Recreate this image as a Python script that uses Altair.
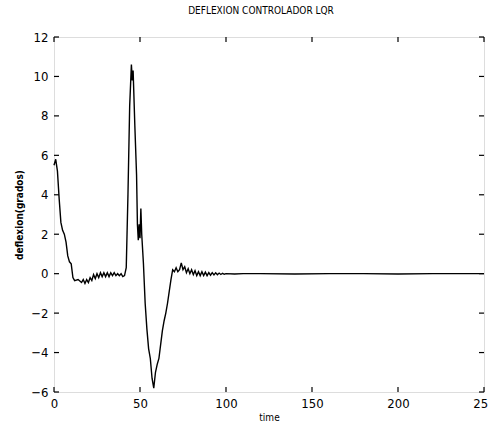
import altair as alt
import pandas as pd

# Data
t = [0, 1, 2, 3, 4, 5, 6, 7, 8, 9,
     10, 11, 12, 14, 16, 17, 18, 19, 20, 21,
     22, 23, 24, 25, 26, 27, 28, 29, 30, 31,
     32, 33, 34, 35, 36, 37, 38, 39, 40, 41,
     42, 43, 44, 45, 45.5, 46, 47, 48, 48.5, 49,
     49.5, 50, 50.5, 51, 52, 53, 54, 55, 56, 57,
     58, 59, 60, 61, 62, 63, 64, 65, 66, 67,
     68, 69, 70, 71, 72, 73, 74, 75, 76, 77,
     78, 79, 80, 81, 82, 83, 84, 85, 86, 87,
     88, 89, 90, 91, 92, 93, 94, 95, 96, 97,
     98, 99, 100, 105, 110, 120, 140, 160, 180, 200,
     220, 250]
defl = [5.5, 5.8, 5.2, 3.8, 2.6, 2.2, 2.0, 1.6, 0.9, 0.6,
        0.5, -0.2, -0.35, -0.3, -0.45, -0.3, -0.5, -0.3, -0.45, -0.2,
        -0.35, -0.05, -0.25, 0.0, -0.2, 0.05, -0.15, 0.05, -0.15, 0.05,
        -0.15, 0.05, -0.1, 0.05, -0.1, 0.0, -0.1, 0.0, -0.15, -0.1,
        0.3, 4.0, 8.5, 10.6, 9.8, 10.3, 7.5, 5.0, 2.5, 1.7,
        2.5, 1.8, 3.3, 2.0, 0.5, -1.5, -2.8, -3.8, -4.3, -5.3,
        -5.8, -5.0, -4.6, -4.3, -3.6, -2.9, -2.4, -2.0, -1.5, -0.9,
        -0.3, 0.2, 0.1, 0.3, 0.1, 0.2, 0.55, 0.2, 0.35, 0.05,
        0.25, 0.0, 0.2, -0.05, 0.15, -0.1, 0.1, -0.1, 0.1, -0.1,
        0.08, -0.1, 0.05, -0.08, 0.05, -0.06, 0.04, -0.05, 0.03, -0.04,
        0.02, -0.03, 0.0, -0.02, 0.0, 0.0, -0.02, 0.0, 0.0, -0.02,
        0.0, 0.0]

x_ticks = [0, 50, 100, 150, 200, 250]
y_ticks = [-6, -4, -2, 0, 2, 4, 6, 8, 10, 12]

df = pd.DataFrame({"time": t, "defl": defl})
xt = pd.DataFrame({"time": x_ticks})
yt = pd.DataFrame({"defl": y_ticks})

W, H = 430, 355
FONT = "DejaVu Sans Condensed"

xs = alt.Scale(domain=[0, 250], nice=False)
ys = alt.Scale(domain=[-6, 12], nice=False)

xaxis = alt.Axis(values=x_ticks, title="time", grid=False, ticks=False,
                 domain=False, labelFontSize=13, labelFont=FONT, labelPadding=5,
                 labelColor="black", labelOverlap=False, labelFlush=False,
                 labelBound=False, titleFont=FONT, titleFontSize=10,
                 titleFontWeight="normal", titlePadding=2, titleColor="black")
yaxis = alt.Axis(values=y_ticks, title="deflexion(grados)", grid=False, ticks=False,
                 domain=False, labelFontSize=13, labelFont=FONT, labelPadding=6,
                 labelColor="black", labelOverlap=False, labelFlush=False,
                 labelBound=False, titleFont=FONT, titleFontSize=10,
                 titleFontWeight="bold", titlePadding=6, titleColor="black")

line = alt.Chart(df).mark_line(color="black", strokeWidth=1.4).encode(
    x=alt.X("time:Q", scale=xs, axis=xaxis),
    y=alt.Y("defl:Q", scale=ys, axis=yaxis),
)

tick_len = 5
xb = alt.Chart(xt).mark_rule(color="black", strokeWidth=1.2).encode(
    x=alt.X("time:Q", scale=xs, axis=xaxis), y=alt.value(H), y2=alt.value(H - tick_len))
xtop = alt.Chart(xt).mark_rule(color="black", strokeWidth=1.2).encode(
    x=alt.X("time:Q", scale=xs, axis=xaxis), y=alt.value(0), y2=alt.value(tick_len))
yl = alt.Chart(yt).mark_rule(color="black", strokeWidth=1.2).encode(
    y=alt.Y("defl:Q", scale=ys, axis=yaxis), x=alt.value(0), x2=alt.value(tick_len))
yr = alt.Chart(yt).mark_rule(color="black", strokeWidth=1.2).encode(
    y=alt.Y("defl:Q", scale=ys, axis=yaxis), x=alt.value(W), x2=alt.value(W - tick_len))

chart = alt.layer(line, xb, xtop, yl, yr).properties(
    width=W, height=H,
    title=alt.TitleParams("DEFLEXION CONTROLADOR LQR", font=FONT, fontSize=10,
                          fontWeight="normal", color="black", offset=15, dx=-8),
    autosize=alt.AutoSizeParams(type="none"),
    padding={"left": 54, "top": 37, "right": 4, "bottom": 34},
).configure_view(stroke="black", strokeWidth=1.5).configure(background="white")

chart.save("out.html", embed_options={"renderer": "svg", "actions": False})
